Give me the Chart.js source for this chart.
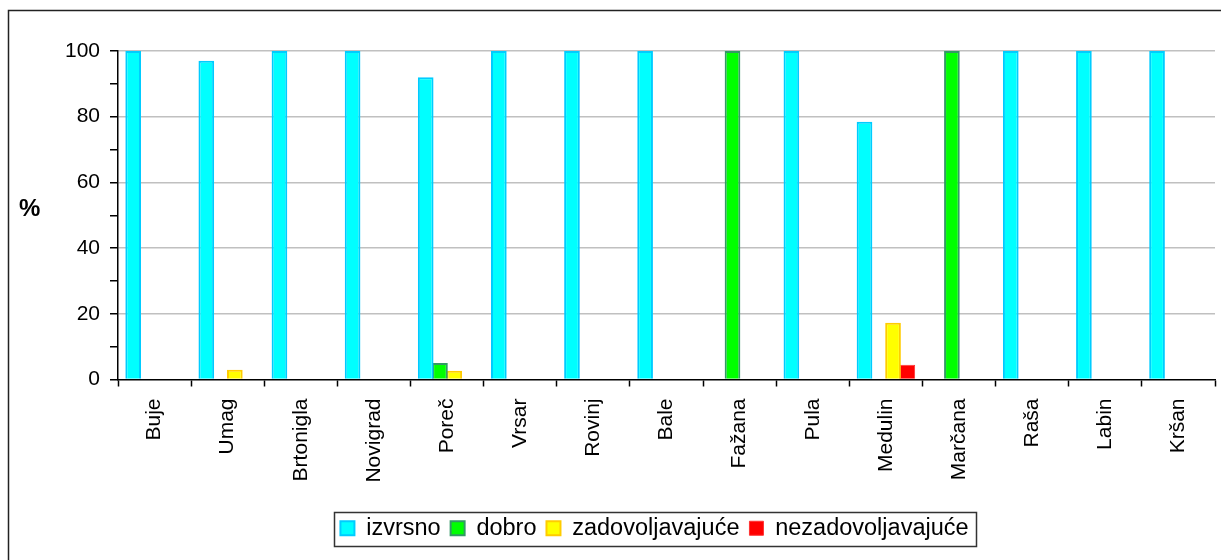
<!DOCTYPE html>
<html>
<head>
<meta charset="utf-8">
<script src="https://cdn.jsdelivr.net/npm/chart.js@4.4.1/dist/chart.umd.min.js"></script>
<style>
  html, body { margin: 0; padding: 0; background: #fff; }
  #wrap { position: relative; width: 1221px; height: 560px; }
  #pct { position: absolute; left: 19px; top: 194px; font: bold 24px "Liberation Sans", Arial, sans-serif; color: #000; }
</style>
</head>
<body>
<div id="wrap">
  <canvas id="c" width="1221" height="560"></canvas>
  <div id="pct">%</div>
</div>
<script>
const categories = ["Buje","Umag","Brtonigla","Novigrad","Poreč","Vrsar","Rovinj","Bale","Fažana","Pula","Medulin","Marčana","Raša","Labin","Kršan"];
const izvrsno = [100, 97, 100, 100, 92, 100, 100, 100, 0, 100, 78.5, 0, 100, 100, 100];
const dobro = [0, 0, 0, 0, 5, 0, 0, 0, 100, 0, 0, 100, 0, 0, 0];
const zadovoljavajuce = [0, 3, 0, 0, 2.7, 0, 0, 0, 0, 0, 17.3, 0, 0, 0, 0];
const nezadovoljavajuce = [0, 0, 0, 0, 0, 0, 0, 0, 0, 0, 4.5, 0, 0, 0, 0];
const seriesNames = ["izvrsno", "dobro", "zadovoljavajuće", "nezadovoljavajuće"];
const yTicks = [0, 20, 40, 60, 80, 100];

const FONT = "'Liberation Sans', Arial, sans-serif";

const framePlugin = {
  id: 'frame',
  afterLayout(chart) {
    const lg = chart.legend;
    if (lg) { lg.left += 18; lg.right += 18; }
  },
  beforeDraw(chart) {
    const ctx = chart.ctx;
    ctx.save();
    ctx.fillStyle = '#fff';
    ctx.fillRect(0, 0, chart.width, chart.height);
    ctx.strokeStyle = '#222';
    ctx.lineWidth = 1.5;
    ctx.strokeRect(8.5, 10.5, 1400, 700);
    ctx.restore();
  },
  afterDraw(chart) {
    const lg = chart.legend;
    if (!lg || !lg.legendHitBoxes || !lg.legendHitBoxes.length) return;
    let l = Infinity, r = -Infinity, t = Infinity, b = -Infinity;
    lg.legendHitBoxes.forEach(h => {
      l = Math.min(l, h.left); r = Math.max(r, h.left + h.width);
      t = Math.min(t, h.top); b = Math.max(b, h.top + h.height);
    });
    const ctx = chart.ctx;
    ctx.save();
    ctx.strokeStyle = '#333';
    ctx.lineWidth = 1.5;
    ctx.strokeRect(Math.round(l - 6) + 0.5, Math.round(t - 5) + 0.5, Math.round(r - l + 14), Math.round(b - t + 10));
    ctx.restore();
  }
};

new Chart(document.getElementById('c'), {
  type: 'bar',
  data: {
    labels: categories,
    datasets: [
      { label: seriesNames[0], data: izvrsno, backgroundColor: '#00FFFF', borderColor: '#00CCFF', borderWidth: 2 },
      { label: seriesNames[1], data: dobro, backgroundColor: '#00FF00', borderColor: '#339966', borderWidth: 2 },
      { label: seriesNames[2], data: zadovoljavajuce, backgroundColor: '#FFFF00', borderColor: '#FFCC00', borderWidth: 2 },
      { label: seriesNames[3], data: nezadovoljavajuce, backgroundColor: '#FF0000', borderColor: '#FF3333', borderWidth: 1 }
    ]
  },
  options: {
    responsive: false,
    animation: false,
    events: [],
    layout: { padding: { left: 58, right: 6, top: 51, bottom: 10 } },
    datasets: { bar: { categoryPercentage: 0.78, barPercentage: 1.1, skipNull: false } },
    plugins: {
      tooltip: { enabled: false },
      legend: {
        position: 'bottom',
        labels: {
          color: '#000',
          font: { family: FONT, size: 23.5 },
          boxWidth: 14,
          boxHeight: 14,
          padding: 10
        }
      }
    },
    scales: {
      x: {
        offset: true,
        grid: { offset: true, drawOnChartArea: false, tickLength: 7, tickColor: '#000', tickWidth: 1.5 },
        border: { color: '#000', width: 1.5 },
        ticks: {
          color: '#000',
          font: { family: FONT, size: 21 },
          minRotation: 90, maxRotation: 90,
          padding: 12,
          autoSkip: false
        },
        afterFit(scale) { scale.height = 127; }
      },
      y: {
        min: 0, max: 100,
        afterBuildTicks(scale) {
          const t = [];
          for (let v = 0; v <= 100; v += 10) t.push({ value: v });
          scale.ticks = t;
        },
        grid: {
          color: (c) => (c.tick && yTicks.includes(c.tick.value) && c.tick.value !== 0) ? '#c0c0c0' : 'rgba(0,0,0,0)',
          lineWidth: 1.5,
          tickLength: 8,
          tickColor: '#000',
          tickWidth: 1.5
        },
        border: { color: '#000', width: 1.5 },
        ticks: {
          color: '#000',
          font: { family: FONT, size: 21 },
          padding: 10,
          callback: (v) => yTicks.includes(v) ? String(v) : ''
        },
        afterFit(scale) { scale.width = 60; }
      }
    }
  },
  plugins: [framePlugin]
});
</script>
</body>
</html>
